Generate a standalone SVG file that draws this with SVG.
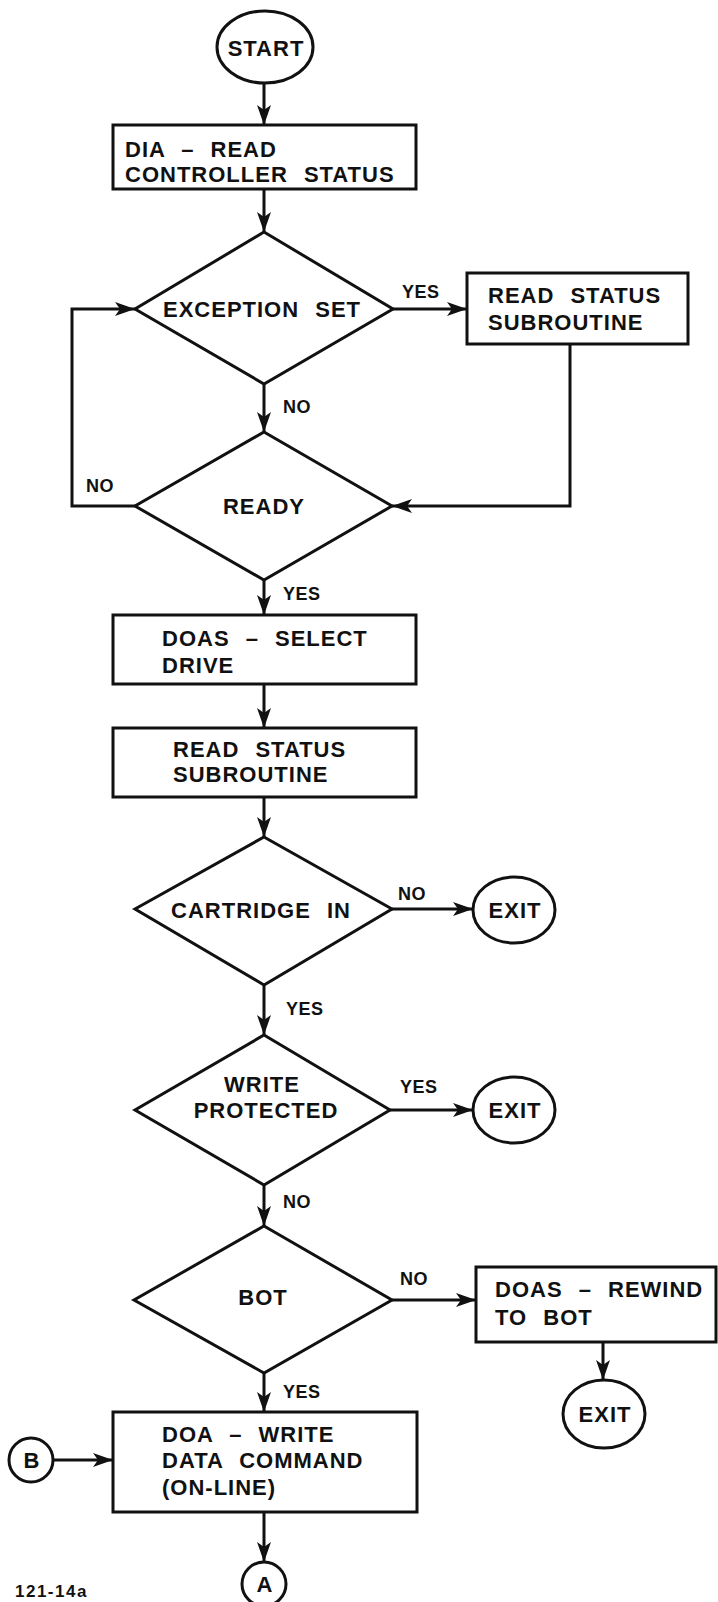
<svg xmlns="http://www.w3.org/2000/svg" width="718" height="1602" viewBox="0 0 718 1602">
<style>
.s{fill:none;stroke:#111;stroke-width:3;stroke-linejoin:miter}
.n{fill:#fff;stroke:#111;stroke-width:3}
.t{font-family:"Liberation Sans",Arial,sans-serif;font-weight:bold;font-size:22px;letter-spacing:1px;word-spacing:9px;fill:#111}
.c{text-anchor:middle}
.l{font-family:"Liberation Sans",Arial,sans-serif;font-weight:bold;font-size:18px;letter-spacing:0.5px;fill:#111}
.f{font-family:"Liberation Sans",Arial,sans-serif;font-weight:bold;font-size:17px;letter-spacing:1.5px;fill:#111}
</style>
<defs>
<marker id="arr" viewBox="0 0 20 14" refX="20" refY="7" markerWidth="20" markerHeight="14" orient="auto" markerUnits="userSpaceOnUse">
<path d="M0,0 L20,7 L0,14 L5,7 Z" fill="#111"/>
</marker>
</defs>
<rect width="718" height="1602" fill="#fff"/>
<g id="connectors">
<line class="s" x1="264" y1="83" x2="264" y2="125" marker-end="url(#arr)"/>
<line class="s" x1="264" y1="189" x2="264" y2="232" marker-end="url(#arr)"/>
<line class="s" x1="393" y1="309" x2="467" y2="309" marker-end="url(#arr)"/>
<polyline class="s" points="570,344 570,506 392,506" marker-end="url(#arr)"/>
<line class="s" x1="264" y1="384" x2="264" y2="432" marker-end="url(#arr)"/>
<polyline class="s" points="135,506 72,506 72,309 135,309" marker-end="url(#arr)"/>
<line class="s" x1="264" y1="580" x2="264" y2="615" marker-end="url(#arr)"/>
<line class="s" x1="264" y1="684" x2="264" y2="728" marker-end="url(#arr)"/>
<line class="s" x1="264" y1="797" x2="264" y2="837" marker-end="url(#arr)"/>
<line class="s" x1="392" y1="909" x2="473" y2="909" marker-end="url(#arr)"/>
<line class="s" x1="264" y1="985" x2="264" y2="1035" marker-end="url(#arr)"/>
<line class="s" x1="390" y1="1110" x2="473" y2="1110" marker-end="url(#arr)"/>
<line class="s" x1="264" y1="1185" x2="264" y2="1226" marker-end="url(#arr)"/>
<line class="s" x1="392" y1="1300" x2="476" y2="1300" marker-end="url(#arr)"/>
<line class="s" x1="603" y1="1342" x2="603" y2="1380" marker-end="url(#arr)"/>
<line class="s" x1="264" y1="1373" x2="264" y2="1412" marker-end="url(#arr)"/>
<line class="s" x1="53" y1="1460" x2="113" y2="1460" marker-end="url(#arr)"/>
<line class="s" x1="264" y1="1512" x2="264" y2="1562" marker-end="url(#arr)"/>
<text class="l" x="402" y="298">YES</text>
<text class="l" x="283" y="413">NO</text>
<text class="l" x="86" y="492">NO</text>
<text class="l" x="283" y="600">YES</text>
<text class="l" x="398" y="900">NO</text>
<text class="l" x="286" y="1015">YES</text>
<text class="l" x="400" y="1093">YES</text>
<text class="l" x="283" y="1208">NO</text>
<text class="l" x="400" y="1285">NO</text>
<text class="l" x="283" y="1398">YES</text>
</g>
<g id="start">
<ellipse class="n" cx="265" cy="47" rx="48" ry="36"/>
<text class="t c" x="266" y="56">START</text>
</g>
<g id="read-controller-status">
<rect class="n" x="113" y="125" width="303" height="64"/>
<text class="t" x="125" y="157">DIA – READ</text>
<text class="t" x="125" y="182">CONTROLLER STATUS</text>
</g>
<g id="exception-set">
<polygon class="n" points="264,232 393,309 264,384 135,309"/>
<text class="t c" x="262" y="317">EXCEPTION SET</text>
</g>
<g id="read-status-1">
<rect class="n" x="467" y="273" width="221" height="71"/>
<text class="t" x="488" y="303">READ STATUS</text>
<text class="t" x="488" y="330">SUBROUTINE</text>
</g>
<g id="ready">
<polygon class="n" points="264,432 392,506 264,580 135,506"/>
<text class="t c" x="264" y="514">READY</text>
</g>
<g id="select-drive">
<rect class="n" x="113" y="615" width="303" height="69"/>
<text class="t" x="162" y="646">DOAS – SELECT</text>
<text class="t" x="162" y="673">DRIVE</text>
</g>
<g id="read-status-2">
<rect class="n" x="113" y="728" width="303" height="69"/>
<text class="t" x="173" y="757">READ STATUS</text>
<text class="t" x="173" y="782">SUBROUTINE</text>
</g>
<g id="cartridge-in">
<polygon class="n" points="264,837 392,909 264,985 135,909"/>
<text class="t c" x="261" y="918">CARTRIDGE IN</text>
</g>
<g id="exit-1">
<ellipse class="n" cx="514" cy="910" rx="41" ry="33"/>
<text class="t c" x="515" y="918">EXIT</text>
</g>
<g id="write-protected">
<polygon class="n" points="264,1035 390,1110 264,1185 135,1110"/>
<text class="t c" x="262" y="1092">WRITE</text>
<text class="t c" x="266" y="1118">PROTECTED</text>
</g>
<g id="exit-2">
<ellipse class="n" cx="514" cy="1110" rx="41" ry="33"/>
<text class="t c" x="515" y="1118">EXIT</text>
</g>
<g id="bot">
<polygon class="n" points="264,1226 392,1300 264,1373 134,1300"/>
<text class="t c" x="263" y="1305">BOT</text>
</g>
<g id="rewind">
<rect class="n" x="476" y="1267" width="240" height="75"/>
<text class="t" x="495" y="1297">DOAS – REWIND</text>
<text class="t" x="495" y="1325">TO BOT</text>
</g>
<g id="exit-3">
<ellipse class="n" cx="604" cy="1414" rx="41" ry="34"/>
<text class="t c" x="605" y="1422">EXIT</text>
</g>
<g id="write-data">
<rect class="n" x="113" y="1412" width="304" height="100"/>
<text class="t" x="162" y="1442">DOA – WRITE</text>
<text class="t" x="162" y="1468">DATA COMMAND</text>
<text class="t" x="162" y="1495">(ON-LINE)</text>
</g>
<g id="connector-b">
<circle class="n" cx="31" cy="1460" r="22"/>
<text class="t c" x="32" y="1468">B</text>
</g>
<g id="connector-a">
<circle class="n" cx="264" cy="1584" r="22"/>
<text class="t c" x="265" y="1592">A</text>
</g>
<text class="f" x="15" y="1597">121-14a</text>
</svg>
